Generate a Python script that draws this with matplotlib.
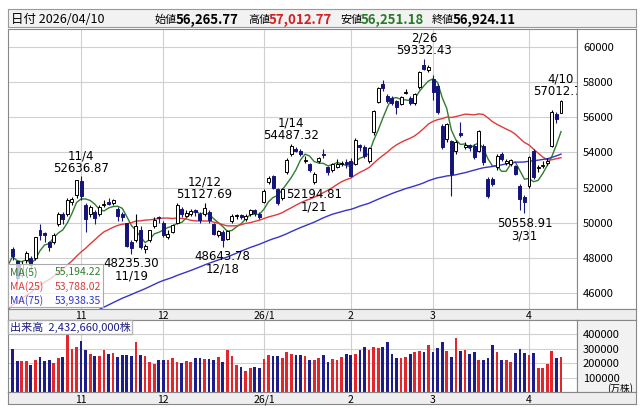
import numpy as np
import matplotlib
matplotlib.use('Agg')
import matplotlib.pyplot as plt
from matplotlib.patches import Rectangle

plt.rcParams['font.family'] = ['Noto Sans CJK JP', 'DejaVu Sans']

# closes before the visible window (for the moving averages)
history_closes = [38790, 38942, 39584, 40150, 40487,
    39986, 39762, 39811, 39810, 39587, 39688, 39821, 39646, 39570, 39459, 39678,
    39663, 39901, 39819, 41171, 41826, 41456, 41064, 40998, 40674, 40654, 41069,
    40800, 40290, 40549, 40794, 41059, 41820, 42718, 43275, 42649, 43378, 43714,
    43546, 42888, 42610, 42633, 42807, 42520, 42394, 42829, 42718,
    42188, 42310, 41938, 42580, 43018, 43643, 43459, 43838, 44372, 44768, 44902,
    44790, 45303, 45045, 45493, 45630, 45754, 45355, 44932, 44550,
    44550, 44936, 45769, 47944, 47950, 47734, 48580]

opens = [
    48500, 47800, 47000, 47900, 48000, 48000, 49600, 49400, 48900, 48900, 49900, 50500, 50500, 51200, 51600,
    52400, 51000, 50500, 50600, 50500, 51000, 51200, 51100, 50800, 50500, 50000, 48900, 49000, 49600, 48500, 49000, 49800, 50300,
    50000, 49200, 49500, 50000, 50800, 50400, 50500, 50700, 50500, 50500, 50600, 49900, 49300, 49500, 49100, 50100, 50400, 50450, 50200, 50500, 50700, 50500,
    51180, 52300, 52650, 51900, 51400, 52880, 53900, 54200, 54100, 53500, 53340, 52320, 53500, 53900, 53170, 53000, 53170, 53350, 53450,
    53500, 53340, 54400, 54300, 53500, 55160, 56870, 57900, 57200, 57100, 56900, 56750, 57400, 57100, 56800, 57720, 59000, 58700,
    58200, 57800, 55500, 54770, 54650, 54080, 55100, 54300, 54450, 54370, 54100, 54370, 52500, 52500, 53170, 53900, 53400, 53350, 53200, 52100, 51470,
    52090, 54080, 53100, 53230, 53400, 54370, 56190, 56265.77]
highs = [
    48600, 47900, 47800, 48400, 48100, 49200, 49900, 49500, 48950, 49400, 50600, 50600, 51400, 51450, 52450,
    52636.87, 51100, 51000, 50700, 51000, 51300, 51400, 51350, 50900, 50600, 50000, 49000, 50500, 49800, 48800, 49600, 50300, 50400,
    50100, 49600, 49900, 51100, 50900, 50700, 50800, 50800, 50600, 51127.69, 50700, 50000, 49600, 49600, 49600, 50500, 50500, 50500, 50500, 50800, 50800, 50600,
    51900, 52650, 52700, 52000, 52000, 53700, 54487.32, 54300, 54200, 53800, 53400, 52900, 53750, 54200, 53200, 53400, 53600, 53500, 53600,
    53700, 54800, 54500, 54400, 54300, 56400, 57700, 58100, 57300, 57200, 57000, 57200, 57600, 57200, 57400, 58650, 59332.43, 58950,
    58400, 57900, 55600, 55700, 54700, 54700, 55730, 54600, 54500, 54500, 55300, 54500, 52600, 52600, 53900, 54000, 53600, 53650, 53300, 52200, 51600,
    53800, 54200, 53300, 53500, 53700, 56400, 56300, 57012.77]
lows = [
    47900, 46500, 46900, 47700, 47300, 47900, 49000, 48900, 48400, 48800, 49800, 49900, 50400, 51000, 51400,
    51300, 49500, 50300, 49900, 50400, 50900, 51000, 51000, 50100, 50100, 48600, 48235.30, 48900, 48500, 48300, 48900, 49700, 50000,
    49200, 49100, 49400, 49900, 50300, 50300, 50400, 50400, 50000, 50400, 50000, 49300, 49200, 48643.78, 49000, 50000, 50200, 50200, 50100, 50400, 50400, 50200,
    51100, 52200, 51900, 51000, 51300, 52800, 53800, 54000, 53800, 53400, 52900, 52194.81, 53400, 53700, 52700, 52900, 53100, 53200, 53100,
    52600, 53300, 54100, 53700, 53400, 55000, 56800, 57500, 56800, 56700, 56200, 56700, 57300, 56700, 56700, 57600, 58700, 58600,
    57000, 56200, 54200, 54600, 51500, 53900, 54900, 54200, 54100, 53600, 54000, 53300, 51400, 52100, 53000, 53500, 53300, 53250, 52700, 50700, 50558.91,
    52000, 52500, 52900, 53100, 53300, 54300, 55700, 56251.18]
closes = [
    48088, 46847, 47672, 48277, 47582, 49185, 49316, 49307, 48641, 49299, 50512, 50219, 51307, 51325, 52411,
    51497, 50212, 50883, 50276, 50911, 51063, 51063, 51281, 50376, 50323, 48702, 48537, 49823, 48625, 48659, 49559, 50167, 50253,
    49303, 49383, 49864, 51028, 50491, 50581, 50655, 50602, 50148, 50836, 50168, 49383, 49512, 49001, 49507, 50402, 50412, 50344, 50407, 50750, 50526, 50339,
    51832, 52518, 51961, 51117, 51939, 53549, 54341, 54110, 53936, 53583, 52991, 52774, 53688, 53846, 52885, 53333, 53358, 53375, 53322,
    52655, 54720, 54293, 53818, 54253, 56363, 57650, 57639, 56941, 56806, 56566, 57143, 57467, 56825, 57321, 58583, 58753, 58850,
    57440, 56300, 54300, 55600, 52770, 54600, 55000, 54450, 54300, 53740, 55200, 53460, 51530, 52200, 53800, 53630, 53500, 53550, 52800, 51350, 51180,
    53740, 52600, 53170, 53300, 53500, 56300, 55900, 56924.11]

# volume in 万株
volumes = [300000, 215000, 215000, 215000, 185000, 225000, 245000, 215000, 220000, 200000,
    235000, 245000, 400000, 300000, 315000, 355000, 290000, 265000, 250000, 250000,
    290000, 265000, 270000, 245000, 255000, 260000, 250000, 350000, 255000, 250000,
    210000, 195000, 225000, 225000, 225000, 235000, 210000, 200000, 215000, 205000,
    235000, 235000, 230000, 230000, 220000, 240000, 210000, 290000, 250000, 185000, 175000, 145000,
    165000, 175000, 165000, 230000, 260000, 250000, 250000, 235000, 275000, 265000,
    255000, 255000, 250000, 225000, 225000, 235000, 260000, 210000, 230000, 220000, 240000,
    265000, 255000, 265000, 290000, 315000, 290000, 315000, 305000, 315000, 350000,
    265000, 235000, 235000, 245000, 265000, 275000, 285000, 275000, 325000, 280000,
    305000, 350000, 285000, 245000, 375000, 285000, 295000, 265000, 275000, 225000,
    220000, 235000, 325000, 275000, 225000, 225000, 210000, 270000, 300000, 270000,
    260000, 270000, 170000, 170000, 195000, 285000, 235000, 243266]

month_idx = [15, 33, 55, 74, 92, 113]
month_labels = ['11', '12', '26/1', '2', '3', '4']
high_marks = [(15, '11/4'), (42, '12/12'), (61, '1/14'), (90, '2/26'), (120, '4/10')]
low_marks = [(26, '11/19'), (46, '12/18'), (66, '1/21'), (112, '3/31')]
ma_names = ['MA(5)', 'MA(25)', 'MA(75)']
ma_windows = [5, 25, 75]
ma_values = ['55,194.22', '53,788.02', '53,938.35']
ma_colors = ['#2f7d2f', '#e03a3a', '#3535c8']
price_ticks = [46000, 48000, 50000, 52000, 54000, 56000, 58000, 60000]
vol_ticks = [100000, 200000, 300000, 400000]

W, H = 642, 410
def box(x0, y0, x1, y1):
    return [x0 / W, 1 - y1 / H, (x1 - x0) / W, (y1 - y0) / H]

fig = plt.figure(figsize=(W / 100, H / 100), dpi=100)
fig.patch.set_facecolor('white')

n = len(closes)
xs = np.arange(n)
o = np.array(opens); h = np.array(highs); l = np.array(lows); c = np.array(closes)
up = c >= o
navy = '#14147a'
grid_c = '#d0d0d0'
xlim = (-1, 123.5)

# header
hdr = fig.add_axes(box(8, 10, 636, 28))
hdr.set_facecolor('#f2f2f2')
hdr.set_xticks([]); hdr.set_yticks([])
for s in hdr.spines.values():
    s.set_color('#999999')
hdr.set_xlim(0, 628); hdr.set_ylim(0, 1)
hdr.text(3, 0.45, '日付 2026/04/10', fontsize=9, va='center')
parts = [(147, '始値', 'black', False), (168, '56,265.77', 'black', True),
         (240, '高値', 'black', False), (261, '57,012.77', '#d42020', True),
         (332, '安値', 'black', False), (353, '56,251.18', '#2a7a2a', True),
         (424, '終値', 'black', False), (445, '56,924.11', 'black', True)]
for x, t, col, b in parts:
    hdr.text(x, 0.45, t, fontsize=9.5 if b else 8, color=col, va='center',
             fontweight='bold' if b else 'normal')

# price panel
ax = fig.add_axes(box(8, 30, 577, 310))
ax.set_xlim(*xlim)
ax.set_ylim(45090, 61025)
for p in price_ticks:
    ax.axhline(p, color=grid_c, lw=0.8, zorder=0)
for m in month_idx:
    ax.axvline(m, color=grid_c, lw=0.8, zorder=0)

allc = np.array(history_closes + closes, dtype=float)
off = len(history_closes)
for w, col in zip(ma_windows, ma_colors):
    ma = np.convolve(allc, np.ones(w) / w, mode='valid')
    ma_x = np.arange(len(ma)) + w - 1 - off
    keep = ma_x >= -1
    ax.plot(ma_x[keep], ma[keep], color=col, lw=1, zorder=2)

bw = 0.65
for i in range(n):
    col = 'black' if up[i] else navy
    ax.vlines(xs[i], l[i], h[i], color=col, lw=0.8, zorder=3)
    lo, hi = min(o[i], c[i]), max(o[i], c[i])
    ax.add_patch(Rectangle((xs[i] - bw / 2, lo), bw, max(hi - lo, 20),
                           facecolor='white' if up[i] else navy,
                           edgecolor=col, lw=0.7, zorder=4))

for i, lab in high_marks:
    ax.text(i, h[i] + 150, f'{lab}\n{h[i]:.2f}', ha='center', va='bottom',
            fontsize=8.5, linespacing=0.95, clip_on=True, zorder=6,
            family=['DejaVu Sans'])
for i, lab in low_marks:
    ax.text(i, l[i] - 150, f'{l[i]:.2f}\n{lab}', ha='center', va='top',
            fontsize=8.5, linespacing=0.95, clip_on=True, zorder=6,
            family=['DejaVu Sans'])
ax.set_xticks([]); ax.set_yticks([])
for s in ax.spines.values():
    s.set_color('#888888')

# MA legend box
lg = fig.add_axes(box(8, 265, 103, 308))
lg.set_facecolor((1, 1, 1, 0.75))
lg.set_xticks([]); lg.set_yticks([])
for s in lg.spines.values():
    s.set_color('#aaaaaa')
lg.set_xlim(0, 1); lg.set_ylim(0, 3)
for k, (nm, val, col) in enumerate(zip(ma_names, ma_values, ma_colors)):
    yy = 2.5 - k
    lg.text(0.02, yy, nm, color=col, fontsize=7.5, va='center')
    lg.text(0.98, yy, val, color=col, fontsize=7.5, va='center', ha='right')

# right price labels
rp = fig.add_axes(box(577, 30, 636, 310))
rp.set_xlim(0, 1); rp.set_ylim(45090, 61025)
rp.set_xticks([]); rp.set_yticks([])
for s in rp.spines.values():
    s.set_color('#888888')
for p in price_ticks:
    rp.text(0.1, p, str(p), fontsize=8, va='center')

def month_strip(y0, y1):
    a = fig.add_axes(box(8, y0, 636, y1))
    a.set_facecolor('#eeeeee')
    a.set_xlim(xlim[0], xlim[0] + (xlim[1] - xlim[0]) * (628 / 569))
    a.set_ylim(0, 1)
    a.set_xticks([]); a.set_yticks([])
    for s in a.spines.values():
        s.set_color('#888888')
    for m, t in zip(month_idx, month_labels):
        a.text(m, 0.45, t, fontsize=7.5, ha='center', va='center')

month_strip(310, 321)

# volume panel
vx = fig.add_axes(box(8, 321, 577, 393))
vx.set_xlim(*xlim)
vx.set_ylim(0, 500000)
for v in vol_ticks:
    vx.axhline(v, color=grid_c, lw=0.8, zorder=0)
for m in month_idx:
    vx.axvline(m, color=grid_c, lw=0.8, zorder=0)
vx.bar(xs, volumes, width=0.6, color=np.where(up, '#e3262b', '#1c1c8a'), zorder=2)
vx.set_xticks([]); vx.set_yticks([])
for s in vx.spines.values():
    s.set_color('#888888')
vx.text(0.003, 0.98, '出来高  2,432,660,000株', transform=vx.transAxes, fontsize=8,
        va='top', color='#1c1c8a', zorder=5,
        bbox=dict(facecolor='white', edgecolor='#aaaaaa', pad=1.2, alpha=0.85))

rv = fig.add_axes(box(577, 321, 636, 393))
rv.set_xlim(0, 1); rv.set_ylim(0, 500000)
rv.set_xticks([]); rv.set_yticks([])
rv.set_facecolor('#f2f2f2')
for s in rv.spines.values():
    s.set_color('#888888')
for v in vol_ticks:
    rv.text(0.1, v, str(v), fontsize=8, va='center')
rv.text(0.95, 30000, '(万株)', fontsize=7, va='center', ha='right')

month_strip(393, 405)

fig.savefig('out.png', dpi=100)
